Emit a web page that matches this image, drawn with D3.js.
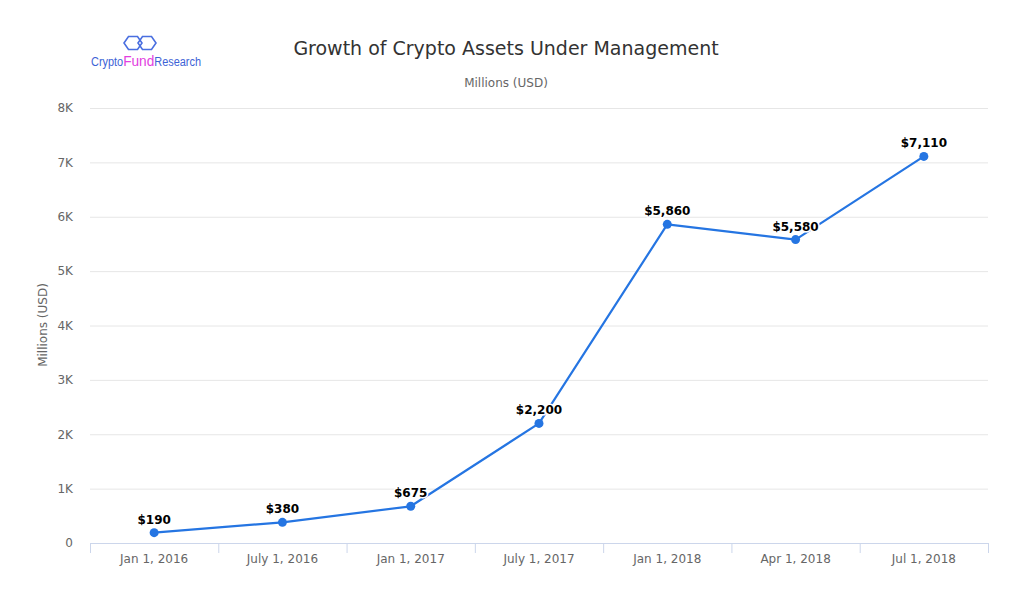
<!DOCTYPE html>
<html lang="en">
<head>
  <meta charset="UTF-8">
  <title>Growth of Crypto Assets Under Management</title>
</head>
<body>
<style>
  * {
    padding: 0;
    margin: 0;
  }

  body {
    background: #fff;
  }

  #app {
    width: 1024px;
    height: 601px;
  }

  #app svg {
    display: block;
    font-family: "DejaVu Sans", Verdana, sans-serif;
  }
</style>

<div id="app"></div>

<script src="https://cdn.jsdelivr.net/npm/d3@7/dist/d3.min.js"></script>
<script>
  var categories = ["Jan 1, 2016", "July 1, 2016", "Jan 1, 2017", "July 1, 2017", "Jan 1, 2018", "Apr 1, 2018", "Jul 1, 2018"];
  var aum = [190, 380, 675, 2200, 5860, 5580, 7110];
  var yTicks = [0, 1000, 2000, 3000, 4000, 5000, 6000, 7000, 8000];

  function drawChart() {
    var width = 1024, height = 601,
      left = 90, right = 988, plotTop = 108, plotBottom = 543,
      lineColor = "#2575e2";

    var svg = d3.select("#app").append("svg")
      .attr("width", width).attr("height", height)
      .attr("viewBox", "0,0 " + width + "," + height);

    var x = d3.scaleBand().domain(categories).range([left, right]).padding(0);
    var y = d3.scaleLinear().domain([0, 8000]).range([plotBottom, plotTop]);

    // grid lines + y labels
    var yAxis = d3.axisLeft(y).tickValues(yTicks)
      .tickSize(-(right - left)).tickPadding(17)
      .tickFormat(function (d) { return d === 0 ? "0" : (d / 1000) + "K"; });

    var gy = svg.append("g").attr("transform", "translate(" + left + ",0)").call(yAxis);
    gy.select(".domain").remove();
    gy.selectAll(".tick line").attr("stroke", "#e6e6e6").attr("stroke-width", 1);
    gy.selectAll(".tick").filter(function (d) { return d === 0; }).select("line").remove();
    gy.selectAll(".tick text").attr("fill", "#666").attr("font-size", 12).attr("font-family", "DejaVu Sans, sans-serif");

    // x axis
    var xAxis = d3.axisBottom(x).tickSize(0).tickPadding(11);
    var gx = svg.append("g").attr("transform", "translate(0," + plotBottom + ")").call(xAxis);
    gx.select(".domain").attr("stroke", "#ccd6eb").attr("d", "M" + left + ",0.5H" + right);
    gx.selectAll(".tick text").attr("fill", "#666").attr("font-size", 12).attr("font-family", "DejaVu Sans, sans-serif");

    // tick marks on band edges
    var edges = categories.map(function (c) { return x(c); }).concat([x(categories[categories.length - 1]) + x.bandwidth()]);
    gx.selectAll(".edge").data(edges).enter().append("line")
      .attr("class", "edge")
      .attr("x1", function (d) { return d + 0.5; }).attr("x2", function (d) { return d + 0.5; })
      .attr("y1", 0).attr("y2", 10)
      .attr("stroke", "#ccd6eb");

    // line
    var cx = function (d, i) { return x(categories[i]) + x.bandwidth() / 2; };
    var line = d3.line().x(cx).y(function (d) { return y(d); });

    svg.append("path")
      .datum(aum)
      .attr("fill", "none")
      .attr("stroke", lineColor)
      .attr("stroke-width", 2.2)
      .attr("stroke-linejoin", "round")
      .attr("d", line);

    svg.selectAll(".pt").data(aum).enter().append("circle")
      .attr("class", "pt")
      .attr("cx", cx).attr("cy", function (d) { return y(d); })
      .attr("r", 4.5)
      .attr("fill", lineColor);

    // data labels
    svg.selectAll(".lbl").data(aum).enter().append("text")
      .attr("class", "lbl")
      .attr("x", cx).attr("y", function (d) { return y(d) - 9; })
      .attr("text-anchor", "middle")
      .attr("font-size", 12).attr("font-weight", "bold")
      .attr("fill", "#000")
      .attr("stroke", "#fff").attr("stroke-width", 3).attr("paint-order", "stroke")
      .attr("stroke-linejoin", "round")
      .text(function (d) { return "$" + d3.format(",")(d); });

    // titles
    svg.append("text")
      .attr("x", 506).attr("y", 55)
      .attr("text-anchor", "middle")
      .attr("font-size", 19).attr("fill", "#333")
      .text("Growth of Crypto Assets Under Management");

    svg.append("text")
      .attr("x", 506).attr("y", 87)
      .attr("text-anchor", "middle")
      .attr("font-size", 12).attr("fill", "#666")
      .text("Millions (USD)");

    svg.append("text")
      .attr("transform", "translate(47,325) rotate(-90)")
      .attr("text-anchor", "middle")
      .attr("font-size", 12).attr("fill", "#666")
      .text("Millions (USD)");

    // logo
    var logo = svg.append("g");
    var hex = function (hx, hy, w, h) {
      var hw = w / 2, hh = h / 2, q = w / 4;
      return "M" + (hx - hw) + "," + hy + "L" + (hx - q) + "," + (hy - hh) + "L" + (hx + q) + "," + (hy - hh) +
        "L" + (hx + hw) + "," + hy + "L" + (hx + q) + "," + (hy + hh) + "L" + (hx - q) + "," + (hy + hh) + "Z";
    };
    logo.append("path").attr("d", hex(133, 43, 18, 13)).attr("fill", "none").attr("stroke", "#4a6fe0").attr("stroke-width", 1.6);
    logo.append("path").attr("d", hex(147, 43, 18, 13)).attr("fill", "none").attr("stroke", "#4a6fe0").attr("stroke-width", 1.6);
    var lt = logo.append("text").attr("x", 91).attr("y", 66)
      .attr("textLength", 110).attr("lengthAdjust", "spacingAndGlyphs")
      .attr("font-family", "Liberation Sans, Arial, sans-serif");
    lt.append("tspan").attr("font-size", 12).attr("fill", "#3d63d6").text("Crypto");
    lt.append("tspan").attr("font-size", 15).attr("fill", "#e23ee0").text("Fund");
    lt.append("tspan").attr("font-size", 12).attr("fill", "#3d63d6").text("Research");
  }

  drawChart();
</script>
</body>
</html>
